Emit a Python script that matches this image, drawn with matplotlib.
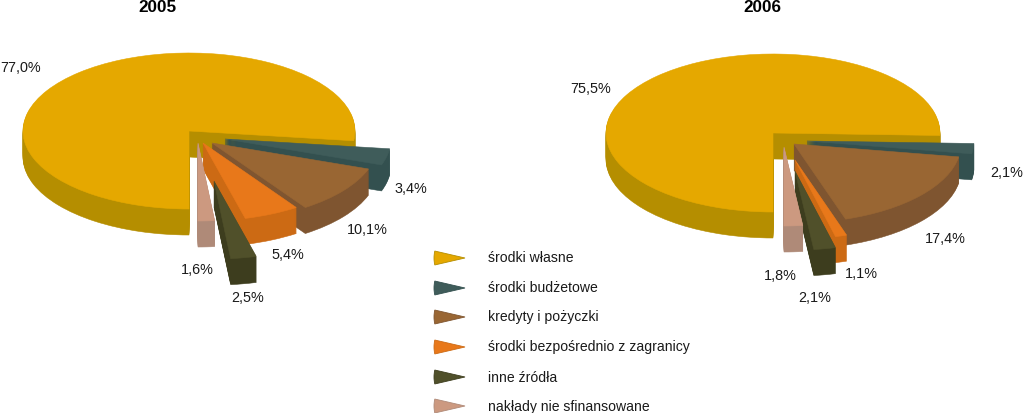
import matplotlib
matplotlib.use("Agg")
import matplotlib.pyplot as plt
from matplotlib.patches import Wedge
from matplotlib.transforms import Affine2D

plt.rcParams['font.family'] = ['Liberation Sans', 'DejaVu Sans']

categories = ["środki własne", "środki budżetowe", "kredyty i pożyczki",
              "środki bezpośrednio z zagranicy", "inne źródła", "nakłady nie sfinansowane"]
values_2005 = [77.0, 3.4, 10.1, 5.4, 2.5, 1.6]
values_2006 = [75.5, 2.1, 17.4, 1.1, 2.1, 1.8]

top_colors = ["#E5A800", "#3F5C5A", "#996633", "#E8781A", "#50502A", "#CC9980"]
side_colors = ["#B58E00", "#33504F", "#7F5530", "#CC6A14", "#3D3D1E", "#AF8A78"]

W, H = 1024, 413
fig = plt.figure(figsize=(W / 100, H / 100), dpi=100)
ax = fig.add_axes([0, 0, 1, 1])
ax.set_xlim(0, W)
ax.set_ylim(H, 0)
ax.axis("off")

# layout: pie centre, semi-axes, depth, per-slice screen offsets, label centres
layouts = [
    dict(values=values_2005, title="2005", title_xy=(157, 7), c=(189, 131), a=166, b=78, depth=26,
         offsets=[(0, 0), (36, 8), (23, 12), (14, 12), (25, 50), (9, 12)],
         labels=[(21, 68), (411, 189), (367, 230), (288, 255), (248, 298), (197, 270)]),
    dict(values=values_2006, title="2006", title_xy=(762, 7), c=(773, 133), a=167, b=79, depth=26,
         offsets=[(0, 0), (34, 8), (21, 11), (22, 27), (22, 38), (11, 14)],
         labels=[(591, 89), (1007, 173), (945, 239), (861, 274), (815, 298), (780, 276)]),
]


def wedge(cx, cy, a, b, t1, t2, color, z):
    p = Wedge((0, 0), 1, t1, t2, facecolor=color, edgecolor=color, linewidth=0.4, zorder=z)
    p.set_transform(Affine2D().scale(a, -b).translate(cx, cy) + ax.transData)
    ax.add_patch(p)


for lay in layouts:
    end = -90.0  # slices run clockwise from straight down
    z = 1
    for i, v in enumerate(lay["values"]):
        start = end - v * 3.6
        cx = lay["c"][0] + lay["offsets"][i][0]
        cy = lay["c"][1] + lay["offsets"][i][1]
        for d in range(lay["depth"], 0, -1):
            wedge(cx, cy + d, lay["a"], lay["b"], start, end, side_colors[i], z)
        wedge(cx, cy, lay["a"], lay["b"], start, end, top_colors[i], z + 0.5)
        z += 1
        end = start
        lx, ly = lay["labels"][i]
        ax.text(lx, ly, f"{v:.1f}%".replace(".", ","), ha="center", va="center",
                fontsize=10.4, color="#1a1a1a", zorder=20)
    ax.text(*lay["title_xy"], lay["title"], ha="center", va="center", fontsize=12.3,
            fontweight="bold", color="black", zorder=20)

# legend
legend_y = [258, 288, 317, 347, 377, 406]
for i, (name, y) in enumerate(zip(categories, legend_y)):
    p = Wedge((465, y), 31, 167, 193, facecolor=top_colors[i], edgecolor=side_colors[i],
              linewidth=0.6, zorder=10)
    ax.add_patch(p)
    ax.text(488, y + 0.5, name, ha="left", va="center", fontsize=10.1, color="#1a1a1a", zorder=20)

fig.savefig("out.png", dpi=100)
